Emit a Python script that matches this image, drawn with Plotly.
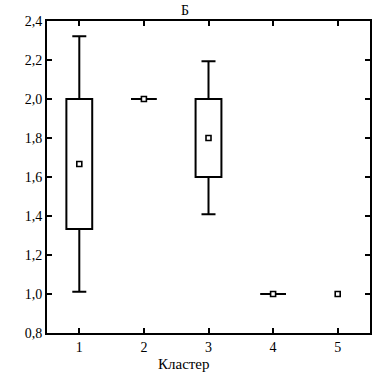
import plotly.graph_objects as go

clusters = [1, 2, 3, 4, 5]
means = [1.667, 2.0, 1.8, 1.0, 1.0]
box_low = [1.333, 2.0, 1.6, 1.0, None]
box_high = [2.0, 2.0, 2.0, 1.0, None]
whisk_low = [1.012, None, 1.409, None, None]
whisk_high = [2.322, None, 2.193, None, None]
y_ticks = [0.8, 1.0, 1.2, 1.4, 1.6, 1.8, 2.0, 2.2, 2.4]

FONT = "Liberation Serif, Times New Roman, DejaVu Serif, serif"
BOX_W = 0.4
fig = go.Figure()

# boxes with height: bars from box_low to box_high
bx = [c for c, lo, hi in zip(clusters, box_low, box_high) if lo is not None and hi > lo]
blo = [lo for lo, hi in zip(box_low, box_high) if lo is not None and hi > lo]
bhi = [hi for lo, hi in zip(box_low, box_high) if lo is not None and hi > lo]
fig.add_trace(go.Bar(
    x=bx, y=[h - l for h, l in zip(bhi, blo)], base=blo, width=BOX_W,
    marker=dict(color="white", line=dict(color="black", width=2)),
    showlegend=False, hoverinfo="skip"))

# degenerate boxes (low == high): a horizontal line of box width
dx = [c for c, lo, hi in zip(clusters, box_low, box_high) if lo is not None and hi == lo]
dy = [lo for lo, hi in zip(box_low, box_high) if lo is not None and hi == lo]
fig.add_trace(go.Scatter(
    x=dx, y=dy, mode="markers", marker=dict(size=1, opacity=0),
    error_x=dict(type="constant", value=BOX_W / 2, color="black", thickness=2, width=0),
    showlegend=False, hoverinfo="skip"))

# whiskers from box edges
wx = [c for c, w in zip(clusters, whisk_high) if w is not None]
wq3 = [h for h, w in zip(box_high, whisk_high) if w is not None]
wq1 = [l for l, w in zip(box_low, whisk_low) if w is not None]
wh = [w for w in whisk_high if w is not None]
wl = [w for w in whisk_low if w is not None]
fig.add_trace(go.Scatter(
    x=wx, y=wq3, mode="markers", marker=dict(size=1, opacity=0),
    error_y=dict(type="data", symmetric=False,
                 array=[h - q for h, q in zip(wh, wq3)], arrayminus=[0] * len(wx),
                 color="black", thickness=2, width=7),
    showlegend=False, hoverinfo="skip"))
fig.add_trace(go.Scatter(
    x=wx, y=wq1, mode="markers", marker=dict(size=1, opacity=0),
    error_y=dict(type="data", symmetric=False,
                 array=[0] * len(wx), arrayminus=[q - l for q, l in zip(wq1, wl)],
                 color="black", thickness=2, width=7),
    showlegend=False, hoverinfo="skip"))

# means
fig.add_trace(go.Scatter(
    x=clusters, y=means, mode="markers",
    marker=dict(symbol="square", size=5, color="white",
                line=dict(color="black", width=1.6)),
    showlegend=False, hoverinfo="skip"))

# carrier for inside tick marks
fig.add_trace(go.Scatter(x=[clusters[0]], y=[y_ticks[0]], xaxis="x2", yaxis="y2",
                         mode="markers", marker=dict(opacity=0), showlegend=False,
                         hoverinfo="skip"))

tickfont = dict(family=FONT, size=14, color="black")
fig.update_layout(
    xaxis=dict(range=[0.5, 5.5], tickvals=clusters, ticktext=[str(c) for c in clusters],
               showline=True, linecolor="black", linewidth=2, mirror=True,
               ticks="outside", ticklen=0, showgrid=False, zeroline=False,
               tickfont=tickfont),
    yaxis=dict(range=[0.8, 2.4], tickvals=y_ticks, tickformat=".1f",
               showline=True, linecolor="black", linewidth=2, mirror=True,
               ticks="outside", ticklen=0, showgrid=False, zeroline=False,
               tickfont=tickfont),
    xaxis2=dict(range=[0.5, 5.5], tickvals=clusters, overlaying="x", showticklabels=False,
                ticks="inside", ticklen=5, tickwidth=2, tickcolor="black", mirror="ticks",
                showline=False, showgrid=False, zeroline=False),
    yaxis2=dict(range=[0.8, 2.4], tickvals=y_ticks, overlaying="y", showticklabels=False,
                ticks="inside", ticklen=5, tickwidth=2, tickcolor="black", mirror="ticks",
                showline=False, showgrid=False, zeroline=False),
    width=379, height=376, separators=", ",
    margin=dict(l=47, r=7, t=21, b=43),
    plot_bgcolor="white", paper_bgcolor="white",
    title=dict(text="Б", x=0.488, xref="container", y=0.973, yref="container",
               xanchor="center", yanchor="middle", font=dict(family=FONT, size=14, color="black")),
    annotations=[dict(text="Кластер", xref="paper", yref="paper", x=0.423, y=-0.1,
                      xanchor="center", yanchor="middle", showarrow=False,
                      font=dict(family=FONT, size=15, color="black"))],
)
fig.write_html("out.html", post_script="document.body.style.margin='0';",
               config={"displayModeBar": False})
